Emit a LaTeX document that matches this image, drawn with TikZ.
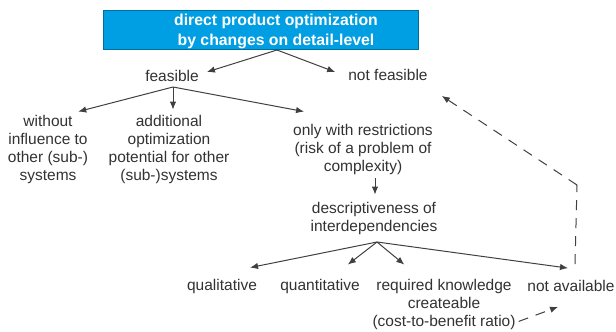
\documentclass[tikz,border=0pt]{standalone}
\usepackage{fontspec}
\setmainfont{Liberation Sans}
\usetikzlibrary{arrows.meta,calc}
\definecolor{boxblue}{RGB}{0,158,226}
\definecolor{ink}{RGB}{50,50,50}
\definecolor{linec}{RGB}{64,64,64}
\tikzset{
  lbl/.style={align=center, inner sep=0pt, text=ink, font=\fontsize{15.5}{18}\selectfont},
  titlebox/.style={rectangle, fill=boxblue, draw=boxblue!70!black, line width=0.6pt, inner sep=0pt},
  titletext/.style={align=center, inner sep=0pt, text=white, font=\fontsize{15.8}{20}\selectfont\bfseries},
  arr/.style={draw=linec, line width=1pt, -{Latex[length=8pt,width=6.5pt]}},
  darr/.style={arr, dash pattern=on 10pt off 8pt},
  dline/.style={draw=linec, line width=1pt, dash pattern=on 10pt off 8pt}
}
\begin{document}
\begin{tikzpicture}[x=1pt,y=-1pt]
\useasboundingbox (0,0) rectangle (616,332);
\node[titlebox, minimum width=315pt, minimum height=39pt] (top) at (260.5,29.5) {};
\node[titletext] (title) at (276,31) {direct product optimization\\by changes on detail-level};
\node[lbl] (feas) at (172,76) {feasible};
\node[lbl] (notf) at (388,75) {not feasible};
\node[lbl] (without) at (48,149) {without\\influence to\\other (sub-)\\systems};
\node[lbl] (addl) at (169,149) {additional\\optimization\\potential for other\\(sub-)systems};
\node[lbl] (only) at (363,149) {only with restrictions\\(risk of a problem of\\complexity)};
\node[lbl] (descr) at (374,218) {descriptiveness of\\interdependencies};
\node[lbl] (qual) at (222,286) {qualitative};
\node[lbl] (quant) at (320,286) {quantitative};
\node[lbl] (req) at (444,304) {required knowledge\\createable\\(cost-to-benefit ratio)};
\node[lbl] (notav) at (571,286) {not available};
\coordinate (t1) at (277,50);
\coordinate (fs) at (173,87);
\coordinate (ib) at (377,242);
\coordinate (corner) at (577,185);
% top level
\draw[arr] (t1) -- ([shift={(8,-4)}]feas.east);
\draw[arr] (t1) -- ([shift={(-13,-3)}]notf.west);
% feasible
\draw[arr] (fs) -- ([shift={(-10,-3)}]without.north east);
\draw[arr] (fs) -- ($(fs |- addl.north)+(0,-5)$);
\draw[arr] (fs) -- ([shift={(11,-12)}]only.north west);
% restrictions
\draw[arr] ([shift={(12,4)}]only.south) -- ([shift={(1,-7)}]descr.north);
% interdependencies
\draw[arr] (ib) -- ([shift={(-7,-11)}]qual.north east);
\draw[arr] (ib) -- ([shift={(-12,-14)}]quant.north east);
\draw[arr] (ib) -- ([shift={(32,-14)}]req.north west);
\draw[arr] (ib) -- ([shift={(-3,-12)}]notav.north);
% dashed
\draw[darr] ([shift={(3,-8)}]req.south east) -- ([shift={(-13,15)}]notav.south);
\draw[dline] ([shift={(4,-16)}]notav.north) -- (corner);
\draw[darr] (corner) -- ([shift={(14,15)}]notf.south east);
\end{tikzpicture}
\end{document}
